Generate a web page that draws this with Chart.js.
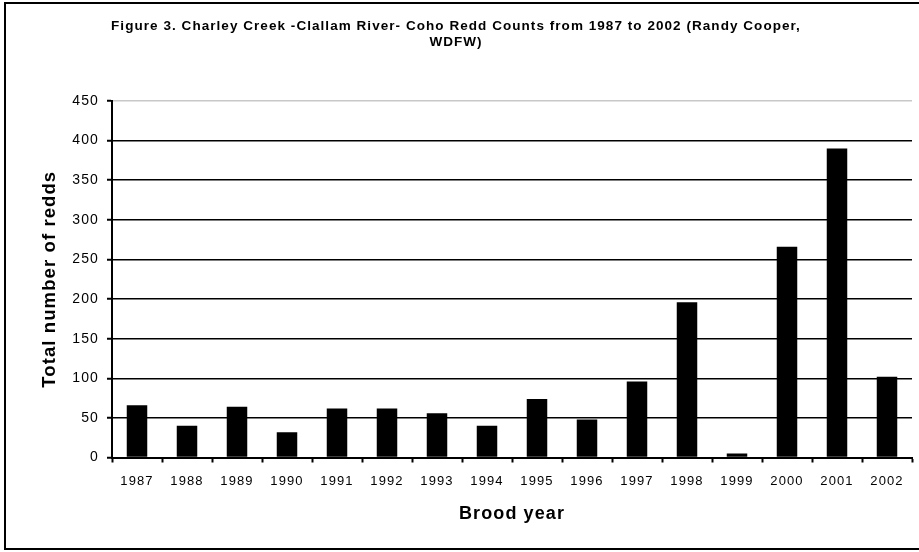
<!DOCTYPE html>
<html>
<head>
<meta charset="utf-8">
<script src="https://cdn.jsdelivr.net/npm/chart.js@4/dist/chart.umd.min.js"></script>
<style>
  html, body { margin: 0; padding: 0; background: #fff; }
  #wrap { width: 919px; height: 552px; }
</style>
</head>
<body>
<div id="wrap"><canvas id="c" width="919" height="552"></canvas></div>
<script>
// Charley Creek (Clallam River) coho redd counts by brood year
const years = ['1987','1988','1989','1990','1991','1992','1993','1994',
               '1995','1996','1997','1998','1999','2000','2001','2002'];
const redds = [66, 40, 64, 32, 62, 62, 56, 40, 74, 48, 96, 196, 5, 266, 390, 102];
const yTicks = [0, 50, 100, 150, 200, 250, 300, 350, 400, 450];

const titleLines = [
  'Figure 3. Charley Creek -Clallam River- Coho Redd Counts from 1987 to 2002 (Randy Cooper,',
  'WDFW)'
];
const xTitle = 'Brood year';
const yTitle = 'Total number of redds';

const FONT = '"Liberation Sans", Arial, sans-serif';
const AXIS_TRACKING = '1.1px';
const TITLE_TRACKING = '1.05px';

// slightly tracked-out lettering; the chart title gets its own value
const trackingPlugin = {
  id: 'tracking',
  beforeUpdate(chart) { chart.ctx.letterSpacing = AXIS_TRACKING; },
  afterLayout(chart) {
    const tb = chart.titleBlock;
    if (tb && !tb._tracked) {
      const draw = tb.draw.bind(tb);
      tb.draw = function () {
        chart.ctx.letterSpacing = TITLE_TRACKING;
        draw();
        chart.ctx.letterSpacing = AXIS_TRACKING;
      };
      tb._tracked = true;
    }
  },
  beforeDraw(chart) { chart.ctx.letterSpacing = AXIS_TRACKING; }
};

// outer frame around the whole figure
const framePlugin = {
  id: 'frame',
  afterDraw(chart) {
    const ctx = chart.ctx;
    ctx.save();
    ctx.strokeStyle = '#000';
    ctx.lineWidth = 2;
    ctx.strokeRect(5, 3, 930, 546);
    ctx.restore();
  }
};

new Chart(document.getElementById('c'), {
  type: 'bar',
  data: {
    labels: years,
    datasets: [{
      data: redds,
      backgroundColor: '#000',
      borderWidth: 0,
      barPercentage: 0.41,
      categoryPercentage: 1.0
    }]
  },
  options: {
    responsive: false,
    animation: false,
    devicePixelRatio: 1,
    layout: { padding: { left: 0, right: 7, top: 0, bottom: 0 } },
    plugins: {
      legend: { display: false },
      tooltip: { enabled: false },
      title: {
        display: true,
        text: titleLines,
        color: '#000',
        font: { family: FONT, size: 13.5, weight: 'bold', lineHeight: 16 / 13.5 },
        padding: { top: 18, bottom: 51 }
      }
    },
    scales: {
      x: {
        grid: {
          display: true,
          drawOnChartArea: false,
          drawTicks: true,
          tickLength: 5,
          tickColor: '#000',
          tickWidth: 2,
          offset: true
        },
        border: { display: true, color: '#000', width: 2 },
        ticks: {
          color: '#000',
          padding: 11,
          maxRotation: 0,
          autoSkip: false,
          font: { family: FONT, size: 13 }
        },
        title: {
          display: true,
          text: xTitle,
          color: '#000',
          font: { family: FONT, size: 18, weight: 'bold' },
          padding: { top: 0, bottom: 27 }
        },
        afterFit(scale) { scale.height = 552 - 457.5; }
      },
      y: {
        min: 0,
        max: 450,
        afterBuildTicks(scale) { scale.ticks = yTicks.map(v => ({ value: v })); },
        grid: {
          color: ctx => (ctx.tick && ctx.tick.value === 450) ? '#c8c8c8' : '#000',
          lineWidth: 1.5,
          drawTicks: true,
          tickLength: 5,
          tickColor: '#000',
          tickWidth: 2
        },
        border: { display: true, color: '#000', width: 2 },
        ticks: {
          color: '#000',
          padding: 8,
          font: { family: FONT, size: 14 }
        },
        title: {
          display: true,
          text: yTitle,
          color: '#000',
          font: { family: FONT, size: 18.5, weight: 'bold' },
          padding: { top: 39, bottom: 0 }
        },
        afterFit(scale) { scale.width = 112; }
      }
    }
  },
  plugins: [trackingPlugin, framePlugin]
});
</script>
</body>
</html>
